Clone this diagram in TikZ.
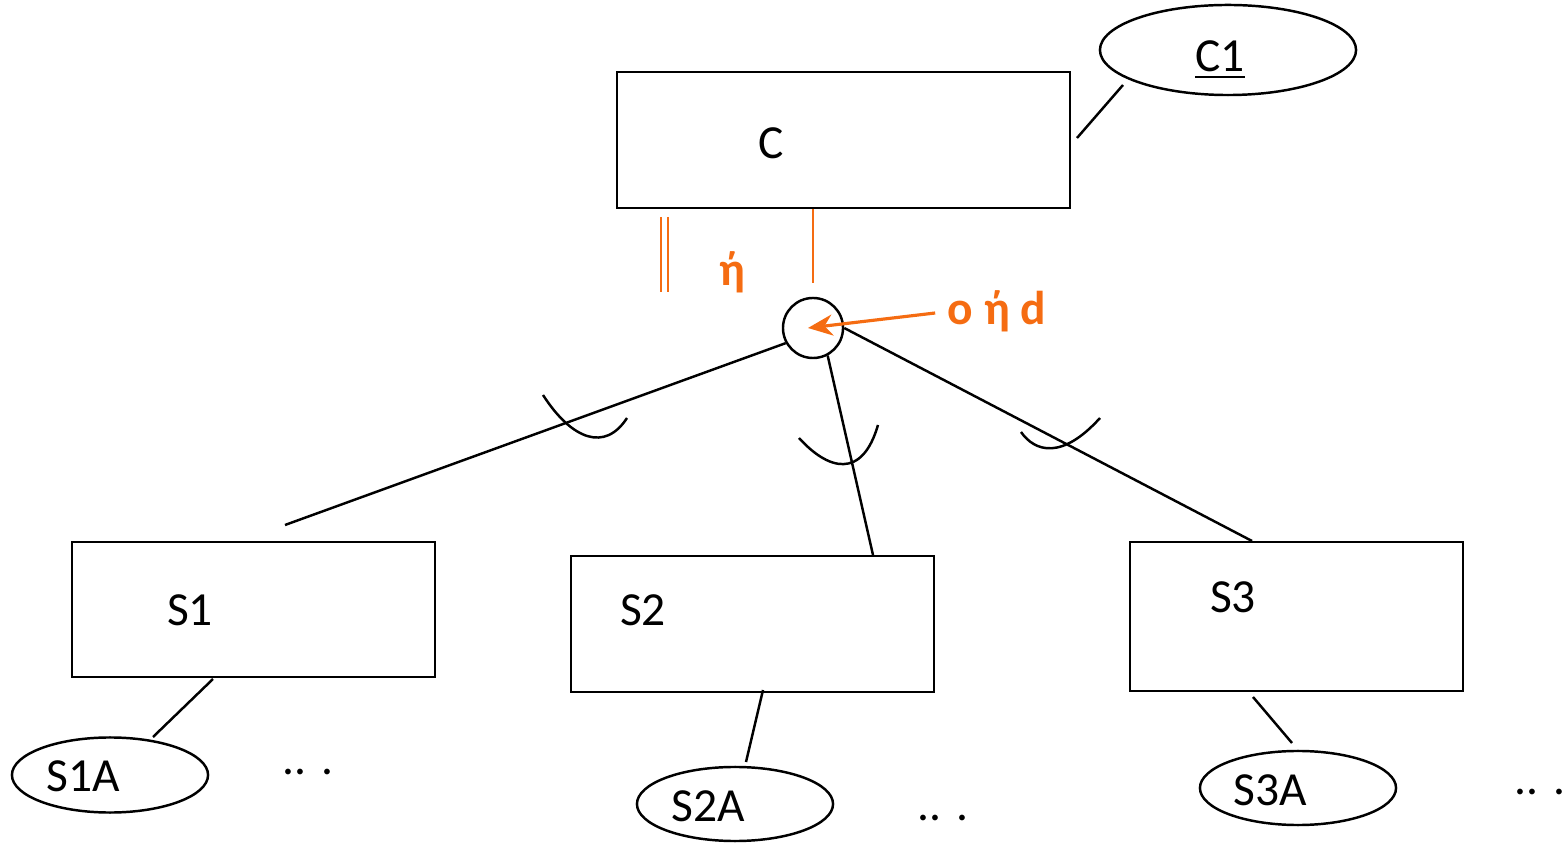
\documentclass[tikz,border=0pt]{standalone}
\usepackage{fontspec}
\setmainfont{Carlito}
\usetikzlibrary{shapes.geometric,arrows.meta}

\definecolor{orangeline}{RGB}{245,108,18}

\tikzset{
    entity/.style={draw, rectangle, line width=0.75pt, inner sep=0pt},
    attrib/.style={draw, ellipse, line width=0.7pt, inner sep=0pt},
    txt/.style={font=\fontsize{13.5}{16}\selectfont, inner sep=0pt},
    otxt/.style={font=\fontsize{13.5}{16}\selectfont\bfseries, text=orangeline, inner sep=0pt},
    conn/.style={line width=0.7pt},
    oconn/.style={line width=0.7pt, orangeline}
}

\begin{document}
\begin{tikzpicture}[x=0.01cm, y=-0.01cm]
    \useasboundingbox (0,0) rectangle (1566,843);

    % zeichne Entitaeten
    \node[entity, minimum width=4.53cm, minimum height=1.36cm] (C) at (843.5,140) {};
    \node[entity, minimum width=3.63cm, minimum height=1.35cm] (S1) at (253.5,609.5) {};
    \node[entity, minimum width=3.63cm, minimum height=1.36cm] (S2) at (752.5,624) {};
    \node[entity, minimum width=3.33cm, minimum height=1.49cm] (S3) at (1296.5,616.5) {};

    % zeichne Beschriftungen
    \node[txt] (Clabel) at (771,143) {C};
    \node[txt] (S1label) at (190,610) {S1};
    \node[txt] (S2label) at (643,610) {S2};
    \node[txt] (S3label) at (1233,597) {S3};

    % zeichne Attribute
    \node[attrib, minimum width=2.56cm, minimum height=0.9cm] (C1) at (1228,50) {};
    \node[txt] (C1label) at (1220,60) {\underline{C1}};
    \node[attrib, minimum width=1.96cm, minimum height=0.75cm] (S1A) at (110,775) {};
    \node[txt] (S1Alabel) at (83,776) {S1A};
    \node[attrib, minimum width=1.96cm, minimum height=0.74cm] (S2A) at (735,804) {};
    \node[txt] (S2Alabel) at (708,806) {S2A};
    \node[attrib, minimum width=1.96cm, minimum height=0.74cm] (S3A) at (1298,788) {};
    \node[txt] (S3Alabel) at (1270,790) {S3A};

    % zeichne Punkte
    \node[txt] (dotsA) at (308,772) {.. .};
    \node[txt] (dotsB) at (943,818) {.. .};
    \node[txt] (dotsC) at (1540,792) {.. .};

    % zeichne Attributlinien
    \coordinate (cA) at (1077,138);
    \coordinate (cB) at (1123,85);
    \coordinate (s1a) at (213,679);
    \coordinate (s1b) at (153,737);
    \coordinate (s2a) at (763,690);
    \coordinate (s2b) at (746,762);
    \coordinate (s3a) at (1253,697);
    \coordinate (s3b) at (1292,743);
    \draw[conn] (cA) -- (cB);
    \draw[conn] (s1a) -- (s1b);
    \draw[conn] (s2a) -- (s2b);
    \draw[conn] (s3a) -- (s3b);

    % zeichne Spezialisierung
    \node[draw, circle, line width=0.7pt, minimum size=0.6cm, inner sep=0pt] (D) at (813,328) {};
    \coordinate (toS1) at (285,525);
    \coordinate (toS2) at (873,555);
    \coordinate (toS3) at (1252,541);
    \draw[conn] (D.209) -- (toS1);
    \draw[conn] (D.-62) -- (toS2);
    \draw[conn] (D.east) -- (toS3);

    % zeichne Teilmengenboegen
    \draw[conn] (543,395) .. controls (572,440) and (605,452) .. (627,418);
    \draw[conn] (799,438) .. controls (828,470) and (862,480) .. (878,425);
    \draw[conn] (1021,432) .. controls (1035,452) and (1062,460) .. (1100,418);

    % zeichne orange Markierungen
    \coordinate (dblA) at (661,217);
    \coordinate (dblB) at (661,292);
    \coordinate (dblC) at (668,217);
    \coordinate (dblD) at (668,292);
    \coordinate (vA) at (813,209);
    \coordinate (vB) at (813,283);
    \draw[oconn] (dblA) -- (dblB);
    \draw[oconn] (dblC) -- (dblD);
    \draw[oconn] (vA) -- (vB);
    \node[otxt] (eta) at (732,272) {ή};
    \node[otxt] (ohd) at (997,311) {o ή d};
    \draw[oconn, line width=0.9pt, -{Stealth[length=7pt,width=6pt]}] (ohd.west) ++(-12,2) coordinate (arrStart) -- (808,328);
\end{tikzpicture}
\end{document}
